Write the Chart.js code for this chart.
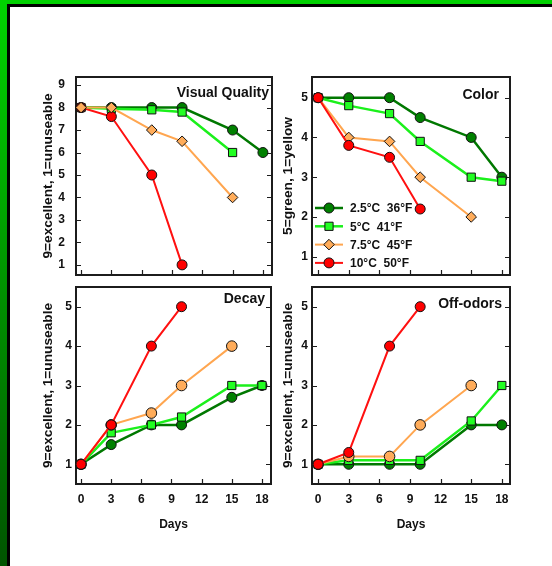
<!DOCTYPE html>
<html>
<head>
<meta charset="utf-8">
<title>Storage temperature ratings</title>
<script src="https://cdn.jsdelivr.net/npm/chart.js@4.4.1/dist/chart.umd.min.js"></script>
<style>
  html, body { margin: 0; padding: 0; background: #fff; }
  body { width: 552px; height: 566px; position: relative; overflow: hidden; }
  #frameTop { position: absolute; left: 0; top: 0; width: 552px; height: 4px; background: #00d000; }
  #frameLeft { position: absolute; left: 0; top: 0; width: 7px; height: 566px; background: linear-gradient(#00d400, #005400); }
  #innerTop { position: absolute; left: 7px; top: 4px; width: 545px; height: 3px; background: #000; }
  #innerLeft { position: absolute; left: 7px; top: 4px; width: 3px; height: 562px; background: #000; }
  canvas { position: absolute; left: 0; top: 0; }
</style>
</head>
<body>
<div id="frameTop"></div>
<div id="frameLeft"></div>
<div id="innerTop"></div>
<div id="innerLeft"></div>
<canvas id="quality" width="552" height="566"></canvas>
<canvas id="color" width="552" height="566"></canvas>
<canvas id="decay" width="552" height="566"></canvas>
<canvas id="odors" width="552" height="566"></canvas>
<script>
// storage days and axis ticks
const days = [0, 3, 7, 10, 15, 18];
const dayTicks = [0, 3, 6, 9, 12, 15, 18];
const qualityTicks = [1, 2, 3, 4, 5, 6, 7, 8, 9];
const scoreTicks = [1, 2, 3, 4, 5];
const seriesNames = ["2.5°C  36°F", "5°C  41°F", "7.5°C  45°F", "10°C  50°F"];

// Visual Quality
const quality25 = [8, 8, 8, 8, 7, 6];
const quality5 = [8, 7.95, 7.9, 7.8, 6];
const quality75 = [8, 8, 7, 6.5, 4];
const quality10 = [8, 7.6, 5, 1];

// Color
const color25 = [5, 5, 5, 4.5, 4, 3];
const color5 = [5, 4.8, 4.6, 3.9, 3, 2.9];
const color75 = [5, 4, 3.9, 3, 2];
const color10 = [5, 3.8, 3.5, 2.2];

// Decay
const decay25 = [1, 1.5, 2, 2, 2.7, 3];
const decay5 = [1, 1.8, 2, 2.2, 3, 3];
const decay75 = [1, 2, 2.3, 3, 4];
const decay10 = [1, 2, 4, 5];

// Off-odors
const odor25 = [1, 1, 1, 1, 2, 2];
const odor5 = [1, 1.1, 1.1, 1.1, 2.1, 3];
const odor75 = [1, 1.2, 1.2, 2, 3];
const odor10 = [1, 1.3, 4, 5];

const FONT = "'Liberation Sans', Arial, Helvetica, sans-serif";

const looks = [
  { line: "#007800", fill: "#008000", shape: "circle", r: 5, width: 2.5 },
  { line: "#1bf01b", fill: "#22ff22", shape: "rect", r: 5.8, width: 2.5 },
  { line: "#ffa650", fill: "#ffac5a", shape: "rectRot", r: 5.3, width: 2 },
  { line: "#ff1010", fill: "#ff0000", shape: "circle", r: 5, width: 2 },
];

function makeDataset(i, values, order, shape) {
  const look = looks[i];
  return {
    label: seriesNames[i],
    data: values.map((v, k) => ({ x: days[k], y: v })),
    borderColor: look.line,
    borderWidth: look.width,
    pointBackgroundColor: look.fill,
    pointBorderColor: "#111",
    pointBorderWidth: 1,
    pointStyle: shape || look.shape,
    pointRadius: look.r,
    tension: 0,
    order: order,
    clip: false,
  };
}

// inward tick marks and the plot frame
const boxAndTicks = {
  id: "boxAndTicks",
  beforeDatasetsDraw(chart) {
    const { ctx, chartArea: a, scales } = chart;
    ctx.save();
    ctx.strokeStyle = "#1c1c1c";
    ctx.lineWidth = 1.2;
    ctx.beginPath();
    scales.x.ticks.forEach((t) => {
      const px = Math.round(scales.x.getPixelForValue(t.value)) + 0.5;
      ctx.moveTo(px, a.bottom);
      ctx.lineTo(px, a.bottom - 5);
    });
    scales.y.ticks.forEach((t) => {
      const py = Math.round(scales.y.getPixelForValue(t.value)) + 0.5;
      ctx.moveTo(a.left, py);
      ctx.lineTo(a.left + 5, py);
      ctx.moveTo(a.right, py);
      ctx.lineTo(a.right - 5, py);
    });
    ctx.stroke();
    ctx.lineWidth = 2;
    ctx.strokeRect(a.left, a.top, a.right - a.left, a.bottom - a.top);
    ctx.restore();
  },
};

const panelTitle = {
  id: "panelTitle",
  afterDatasetsDraw(chart, args, opts) {
    if (!opts.text) return;
    const { ctx, chartArea: a } = chart;
    ctx.save();
    ctx.font = "bold 14px " + FONT;
    ctx.fillStyle = "#111";
    ctx.textAlign = "right";
    ctx.textBaseline = "alphabetic";
    ctx.fillText(opts.text, a.right - opts.dx, a.top + opts.dy);
    ctx.restore();
  },
};

const innerLegend = {
  id: "innerLegend",
  afterDatasetsDraw(chart, args, opts) {
    if (!opts.show) return;
    const { ctx, chartArea: a } = chart;
    ctx.save();
    chart.data.datasets.forEach((ds, i) => {
      const y = a.top + opts.top + i * opts.rowGap;
      const x0 = a.left + opts.left;
      ctx.strokeStyle = ds.borderColor;
      ctx.lineWidth = ds.borderWidth;
      ctx.beginPath();
      ctx.moveTo(x0, y);
      ctx.lineTo(x0 + 28, y);
      ctx.stroke();
      ctx.fillStyle = ds.pointBackgroundColor;
      ctx.strokeStyle = ds.pointBorderColor;
      ctx.lineWidth = 1;
      Chart.helpers.drawPoint(
        ctx,
        { pointStyle: ds.pointStyle, radius: ds.pointRadius, rotation: 0, borderWidth: 1 },
        x0 + 14,
        y
      );
      ctx.fillStyle = "#111";
      ctx.font = "bold 12px " + FONT;
      ctx.textAlign = "left";
      ctx.textBaseline = "middle";
      ctx.fillText(ds.label, x0 + 35, y + 1);
    });
    ctx.restore();
  },
};

function makePanel(id, datasets, p) {
  const ctx = document.getElementById(id).getContext("2d");
  return new Chart(ctx, {
    type: "line",
    data: { datasets: datasets },
    plugins: [boxAndTicks, panelTitle, innerLegend],
    options: {
      responsive: false,
      animation: false,
      events: [],
      layout: { padding: p.pad },
      plugins: {
        legend: { display: false },
        tooltip: { enabled: false },
        panelTitle: p.title,
        innerLegend: p.legend || { show: false },
      },
      scales: {
        x: {
          type: "linear",
          min: p.xMin,
          max: p.xMax,
          afterBuildTicks: (s) => {
            s.ticks = dayTicks.map((v) => ({ value: v }));
          },
          afterFit: (s) => {
            s.height = p.xHeight;
          },
          grid: { display: false, drawTicks: false },
          border: { display: false },
          ticks: {
            display: p.showDays,
            padding: 8,
            color: "#111",
            font: { family: FONT, size: 12, weight: "bold" },
          },
          title: {
            display: p.showDays,
            text: "Days",
            color: "#111",
            padding: { top: 0, bottom: 7 },
            font: { family: FONT, size: 12, weight: "bold" },
          },
        },
        y: {
          type: "linear",
          min: p.yMin,
          max: p.yMax,
          afterBuildTicks: (s) => {
            s.ticks = p.yTicks.map((v) => ({ value: v }));
          },
          afterFit: (s) => {
            s.width = p.yWidth;
          },
          grid: { display: false, drawTicks: false },
          border: { display: false },
          ticks: {
            padding: p.yPad,
            color: "#111",
            font: { family: FONT, size: 12, weight: "bold" },
          },
          title: {
            display: true,
            text: p.yTitle,
            color: "#111",
            padding: { top: p.titlePad, bottom: 0 },
            font: { family: FONT, size: 13.7, weight: "bold" },
          },
        },
      },
    },
  });
}

makePanel(
  "quality",
  [
    makeDataset(0, quality25, 3),
    makeDataset(1, quality5, 2),
    makeDataset(2, quality75, 0),
    makeDataset(3, quality10, 1),
  ],
  {
    pad: { left: 36, top: 77, right: 280, bottom: 291 },
    xMin: -0.5, xMax: 18.9, xHeight: 0, showDays: false,
    yMin: 0.55, yMax: 9.36, yTicks: qualityTicks, yWidth: 40, yPad: 11, titlePad: 4,
    yTitle: "9=excellent, 1=unuseable",
    title: { text: "Visual Quality", dx: 3, dy: 20 },
  }
);

makePanel(
  "color",
  [
    makeDataset(0, color25, 3),
    makeDataset(1, color5, 2),
    makeDataset(2, color75, 1),
    makeDataset(3, color10, 0),
  ],
  {
    pad: { left: 280, top: 77, right: 42, bottom: 291 },
    xMin: -0.6, xMax: 18.8, xHeight: 0, showDays: false,
    yMin: 0.54, yMax: 5.52, yTicks: scoreTicks, yWidth: 32, yPad: 4, titlePad: 0,
    yTitle: "5=green, 1=yellow",
    title: { text: "Color", dx: 11, dy: 22 },
    legend: { show: true, left: 3, top: 131, rowGap: 18.3 },
  }
);

makePanel(
  "decay",
  [
    makeDataset(0, decay25, 3),
    makeDataset(1, decay5, 2),
    makeDataset(2, decay75, 1, "circle"),
    makeDataset(3, decay10, 0),
  ],
  {
    pad: { left: 36, top: 287, right: 281, bottom: 27 },
    xMin: -0.5, xMax: 18.9, xHeight: 55, showDays: true,
    yMin: 0.5, yMax: 5.5, yTicks: scoreTicks, yWidth: 40, yPad: 4, titlePad: 4,
    yTitle: "9=excellent, 1=unuseable",
    title: { text: "Decay", dx: 6, dy: 16 },
  }
);

makePanel(
  "odors",
  [
    makeDataset(0, odor25, 3),
    makeDataset(1, odor5, 2),
    makeDataset(2, odor75, 1, "circle"),
    makeDataset(3, odor10, 0),
  ],
  {
    pad: { left: 280, top: 287, right: 42, bottom: 27 },
    xMin: -0.6, xMax: 18.8, xHeight: 55, showDays: true,
    yMin: 0.5, yMax: 5.5, yTicks: scoreTicks, yWidth: 32, yPad: 4, titlePad: 0,
    yTitle: "9=excellent, 1=unuseable",
    title: { text: "Off-odors", dx: 8, dy: 21 },
  }
);
</script>
</body>
</html>
